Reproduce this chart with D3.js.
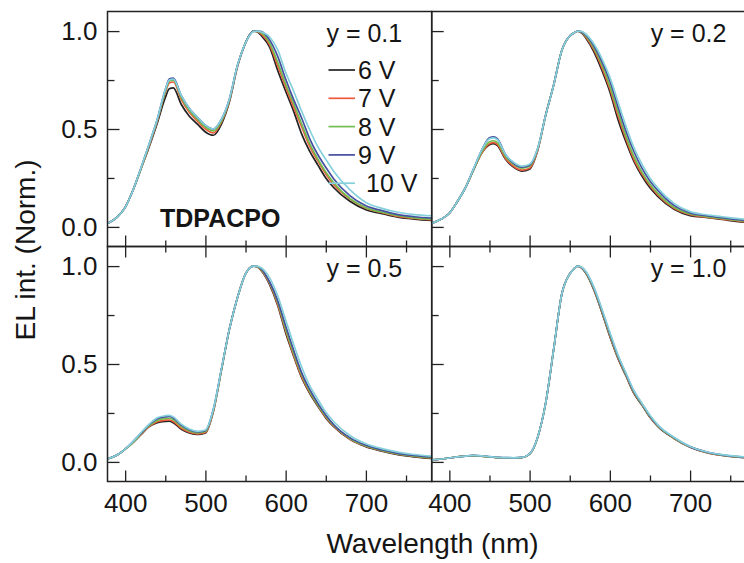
<!DOCTYPE html>
<html>
<head>
<meta charset="utf-8">
<script src="https://cdn.jsdelivr.net/npm/d3@7"></script>
<style>
  body { margin: 0; background: #fff; }
  text { font-family: "Liberation Sans", Arial, sans-serif; fill: #151515; }
</style>
</head>
<body>
<svg id="chart"></svg>
<script>
// Shared wavelength grid (nm)
const wavelengths = [378, 390, 400, 410, 420, 430, 440, 450, 455, 460, 470, 480, 490, 500, 510, 520, 530, 540, 550, 555, 560, 565, 570, 580, 590, 600, 610, 620, 630, 640, 650, 660, 680, 700, 720, 740, 760, 782];

const voltages = ['6 V', '7 V', '8 V', '9 V', '10 V'];
const colors = ['#222222', '#ee5a3c', '#72bd4e', '#4650a0', '#86d0dc'];

// y = 0.1
const y01_6V = [.018, .05, .10, .19, .30, .41, .53, .66, .705, .71, .625, .565, .525, .485, .468, .525, .64, .82, .94, .98, 1.0, .995, .975, .918, .80, .693, .59, .474, .386, .317, .25, .20, .131, .088, .068, .05, .04, .033];
const y01_7V = [.018, .05, .10, .19, .30, .415, .54, .685, .735, .74, .65, .585, .54, .50, .48, .535, .645, .82, .94, .98, 1.0, .997, .983, .93, .825, .715, .61, .51, .41, .337, .27, .215, .142, .096, .073, .054, .043, .036];
const y01_8V = [.018, .05, .10, .19, .30, .42, .545, .69, .745, .75, .66, .595, .55, .51, .49, .54, .65, .825, .94, .98, 1.0, .998, .99, .94, .842, .73, .63, .525, .425, .347, .28, .225, .145, .098, .075, .057, .046, .039];
const y01_9V = [.018, .05, .10, .19, .305, .425, .55, .70, .755, .76, .67, .605, .56, .52, .50, .55, .655, .825, .94, .98, .999, 1.0, .997, .955, .872, .755, .65, .555, .45, .37, .305, .245, .16, .108, .083, .063, .052, .045];
const y01_10V = [.018, .05, .10, .19, .305, .425, .55, .70, .75, .755, .67, .605, .56, .52, .50, .55, .655, .825, .94, .978, .997, 1.0, .995, .97, .905, .79, .693, .59, .495, .41, .345, .283, .19, .125, .095, .075, .063, .057];

// y = 0.2
const y02_6V = [.018, .04, .07, .13, .20, .29, .375, .42, .425, .415, .345, .305, .285, .295, .39, .57, .725, .90, .975, .99, 1.0, .99, .965, .895, .80, .69, .55, .435, .335, .26, .20, .155, .09, .058, .048, .038, .027, .02];
const y02_7V = [.018, .04, .07, .13, .20, .29, .375, .425, .43, .42, .35, .31, .29, .30, .39, .57, .725, .90, .975, .99, 1.0, .992, .97, .905, .815, .705, .57, .45, .345, .27, .21, .162, .095, .062, .05, .04, .03, .023];
const y02_8V = [.018, .04, .07, .13, .20, .29, .38, .435, .44, .43, .36, .32, .30, .31, .395, .57, .725, .90, .975, .99, 1.0, .994, .975, .915, .83, .72, .59, .465, .36, .28, .218, .17, .10, .066, .053, .043, .033, .026];
const y02_9V = [.018, .04, .07, .13, .20, .295, .39, .455, .46, .45, .37, .325, .305, .315, .40, .57, .725, .90, .975, .99, 1.0, .996, .98, .925, .845, .745, .615, .49, .385, .30, .235, .185, .11, .072, .057, .047, .037, .03];
const y02_10V = [.018, .04, .07, .13, .20, .295, .39, .45, .455, .445, .37, .33, .31, .32, .40, .57, .725, .90, .975, .99, 1.0, .998, .985, .935, .86, .765, .64, .515, .405, .32, .25, .197, .12, .078, .062, .052, .042, .036];

// y = 0.5
const y05_6V = [.015, .035, .065, .10, .14, .18, .20, .207, .208, .20, .167, .148, .14, .148, .26, .47, .68, .84, .96, .99, 1.0, .995, .975, .905, .80, .66, .54, .43, .35, .285, .225, .18, .115, .078, .055, .037, .026, .018];
const y05_7V = [.015, .035, .065, .10, .142, .182, .205, .213, .214, .206, .172, .152, .143, .15, .26, .47, .68, .84, .96, .99, 1.0, .996, .977, .91, .805, .67, .545, .435, .355, .29, .228, .183, .117, .08, .057, .039, .028, .02];
const y05_8V = [.015, .035, .065, .10, .145, .186, .212, .222, .223, .215, .18, .158, .148, .155, .265, .47, .68, .84, .96, .99, 1.0, .997, .98, .915, .815, .68, .555, .445, .36, .293, .233, .186, .12, .082, .059, .041, .03, .022];
const y05_9V = [.015, .035, .065, .105, .148, .19, .22, .23, .232, .224, .188, .164, .153, .16, .27, .475, .68, .84, .96, .99, 1.0, .998, .985, .92, .825, .695, .57, .455, .37, .30, .24, .19, .124, .085, .062, .044, .033, .025];
const y05_10V = [.015, .035, .065, .105, .15, .193, .225, .236, .238, .23, .193, .168, .156, .163, .27, .475, .68, .84, .96, .99, 1.0, .999, .99, .94, .85, .725, .60, .485, .39, .32, .255, .205, .135, .093, .068, .05, .038, .03];

// y = 1.0
const y10_6V = [.01, .015, .02, .026, .03, .032, .03, .026, .024, .022, .021, .02, .022, .04, .125, .30, .575, .855, .96, .985, 1.0, .99, .965, .88, .765, .64, .53, .44, .35, .29, .228, .18, .12, .075, .048, .033, .024, .02];
const y10_7V = [.01, .015, .02, .026, .03, .032, .03, .026, .024, .022, .021, .02, .022, .04, .125, .30, .575, .855, .96, .985, 1.0, .991, .967, .883, .768, .645, .534, .443, .353, .292, .23, .182, .121, .076, .049, .034, .025, .021];
const y10_8V = [.01, .015, .02, .026, .03, .032, .03, .026, .024, .022, .021, .02, .022, .04, .125, .30, .575, .855, .96, .985, 1.0, .992, .969, .886, .772, .65, .538, .446, .356, .294, .232, .184, .122, .077, .05, .035, .026, .022];
const y10_9V = [.01, .015, .02, .026, .03, .033, .031, .027, .025, .023, .022, .021, .023, .041, .126, .30, .575, .855, .96, .985, 1.0, .993, .971, .89, .777, .656, .543, .45, .36, .297, .235, .186, .124, .078, .051, .036, .027, .023];
const y10_10V = [.01, .015, .02, .026, .03, .033, .031, .027, .025, .023, .022, .021, .023, .041, .126, .30, .575, .855, .96, .985, 1.0, .994, .973, .894, .782, .662, .548, .455, .364, .30, .238, .188, .126, .079, .052, .037, .028, .024];

const panelLabels = ['y = 0.1', 'y = 0.2', 'y = 0.5', 'y = 1.0'];
const xMajor = [400, 500, 600, 700];
const xMinor = [450, 550, 650, 750];
const yMajor = [0, 0.5, 1.0];
const yMinor = [0.25, 0.75];

const panels = [
  { label: panelLabels[0], col: 0, row: 0, series: [y01_6V, y01_7V, y01_8V, y01_9V, y01_10V] },
  { label: panelLabels[1], col: 1, row: 0, series: [y02_6V, y02_7V, y02_8V, y02_9V, y02_10V] },
  { label: panelLabels[2], col: 0, row: 1, series: [y05_6V, y05_7V, y05_8V, y05_9V, y05_10V] },
  { label: panelLabels[3], col: 1, row: 1, series: [y10_6V, y10_7V, y10_8V, y10_9V, y10_10V] }
];

// Layout
const width = 744;
const height = 563;
const marginLeft = 107.5;
const marginTop = 11.5;
const pw = 324.2;
const ph = 235;

const svg = d3.select('#chart')
  .attr('width', width)
  .attr('height', height);

svg.append('rect').attr('width', width).attr('height', height).attr('fill', '#fff');

const x = d3.scaleLinear().domain([378, 782]).range([0, pw]);
const y = d3.scaleLinear().domain([-0.1, 1.1]).range([ph, 0]);

const line = d3.line()
  .x(d => x(d[0]))
  .y(d => y(d[1]))
  .curve(d3.curveMonotoneX);

function styleAxis(g) {
  g.select('.domain').remove();
  g.selectAll('.tick line').attr('stroke', '#222').attr('stroke-width', 1.3);
  g.selectAll('.tick text')
    .attr('fill', '#151515')
    .style('font-family', '"Liberation Sans", Arial, sans-serif')
    .style('font-size', '26px');
}

panels.forEach((p, i) => {
  const g = svg.append('g')
    .attr('transform', `translate(${marginLeft + p.col * pw},${marginTop + p.row * ph})`);

  g.append('clipPath').attr('id', 'clip' + i)
    .append('rect').attr('width', pw).attr('height', ph);

  // Curves
  const curves = g.append('g').attr('clip-path', `url(#clip${i})`);
  p.series.forEach((vals, k) => {
    curves.append('path')
      .datum(wavelengths.map((w, j) => [w, vals[j]]))
      .attr('fill', 'none')
      .attr('stroke', colors[k])
      .attr('stroke-width', 1.7)
      .attr('d', line);
  });

  // Bottom ticks (inward)
  g.append('g').attr('transform', `translate(0,${ph})`)
    .call(d3.axisBottom(x).tickValues(xMajor).tickSize(-11).tickPadding(12)
      .tickFormat(p.row === 1 ? d3.format('d') : ''))
    .call(styleAxis);
  g.append('g').attr('transform', `translate(0,${ph})`)
    .call(d3.axisBottom(x).tickValues(xMinor).tickSize(-6).tickFormat(''))
    .call(styleAxis);

  // Top ticks for the lower panels (pointing down)
  if (p.row === 1) {
    g.append('g')
      .call(d3.axisTop(x).tickValues(xMajor).tickSize(-11).tickFormat(''))
      .call(styleAxis);
    g.append('g')
      .call(d3.axisTop(x).tickValues(xMinor).tickSize(-6).tickFormat(''))
      .call(styleAxis);
  }

  // Left ticks (inward)
  g.append('g')
    .call(d3.axisLeft(y).tickValues(yMajor).tickSize(-12).tickPadding(10)
      .tickFormat(p.col === 0 ? d3.format('.1f') : ''))
    .call(styleAxis);
  g.append('g')
    .call(d3.axisLeft(y).tickValues(yMinor).tickSize(-7).tickFormat(''))
    .call(styleAxis);

  // Frame
  g.append('rect')
    .attr('width', pw).attr('height', ph)
    .attr('fill', 'none')
    .attr('stroke', '#222')
    .attr('stroke-width', 1.5);

  // Panel label
  g.append('text')
    .attr('x', pw - 29.5)
    .attr('y', 30.5)
    .attr('text-anchor', 'end')
    .style('font-size', '25px')
    .text(p.label);
});

// Legend (first panel)
const legend = svg.append('g');
voltages.forEach((v, k) => {
  const ly = 70 + k * 28.3;
  legend.append('line')
    .attr('x1', 328.5).attr('x2', 355)
    .attr('y1', ly).attr('y2', ly)
    .attr('stroke', colors[k])
    .attr('stroke-width', 1.7);
  legend.append('text')
    .attr('x', k === 4 ? 366 : 358)
    .attr('y', ly + 9)
    .style('font-size', '25px')
    .text(v);
});

// Compound name
svg.append('text')
  .attr('x', 160)
  .attr('y', 227)
  .style('font-size', '25px')
  .style('font-weight', 'bold')
  .text('TDPACPO');

// Axis titles
svg.append('text')
  .attr('x', 432.5)
  .attr('y', 553)
  .attr('text-anchor', 'middle')
  .style('font-size', '28px')
  .text('Wavelength (nm)');

svg.append('text')
  .attr('transform', 'translate(35,250) rotate(-90)')
  .attr('text-anchor', 'middle')
  .style('font-size', '28px')
  .text('EL int. (Norm.)');
</script>
</body>
</html>
